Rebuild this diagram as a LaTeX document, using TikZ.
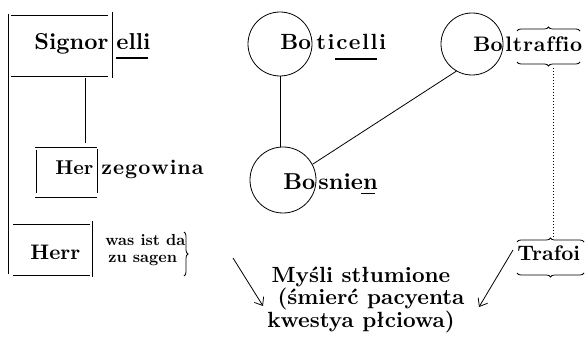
\documentclass[tikz,border=0pt]{standalone}
\usepackage{fontspec}
\setmainfont{lmroman10-regular.otf}[BoldFont=lmroman10-bold.otf]
\usetikzlibrary{arrows.meta,decorations.pathreplacing}
\makeatletter
\newcommand\lsp[2]{\def\lsp@k{#1}\@tfor\lsp@c:=#2\do{\lsp@c\kern\lsp@k}\kern-\lsp@k}
\makeatother
\begin{document}
\begin{tikzpicture}[x=1pt,y=-1pt, line width=0.8pt,
  txt/.style={inner sep=0pt, anchor=base west, font=\bfseries\fontsize{#1}{#1}\selectfont},
  txt/.default=21,
  big/.style={inner sep=0pt, anchor=base, font=\bfseries\fontsize{22}{22}\selectfont},
  ring/.style={circle, draw, minimum size=#1, inner sep=0pt},
  uline/.style={line width=1.4pt},
  brc/.style={decorate, decoration={brace, amplitude=4pt}},
  barb/.style={-{Straight Barb[length=7pt,width=11pt]}}]
\useasboundingbox (0,0) rectangle (585,344);
% Signorelli box
\draw (8,14) -- (8,274);
\draw (11,15) -- (108,15);
\draw (11,76) -- (108,76);
\draw (112,12) -- (112,78);
\node[txt=23] (signor) at (34,50) {Signor};
\node[txt=23] (elli) at (116,50) {elli};
\draw[uline] (116,58) -- (148,58);
% Herzegowina box
\draw (35,147) -- (97,147);
\draw (36,150) -- (36,193);
\draw (97,149) -- (97,193);
\draw (35,197) -- (97,197);
\node[txt=20] (her) at (55,175) {Her};
\node[txt=21] (zego) at (101,175) {\lsp{1pt}{zegowina}};
\coordinate (sigfoot) at (85,78);
\coordinate (herhead) at (85,143);
\draw (sigfoot) -- (herhead);
% Herr box
\draw (13,224) -- (90,224);
\draw (92,221) -- (92,277);
\draw (13,275) -- (90,275);
\node[txt=21] (herr) at (30,259) {Herr};
\node[txt=16] (wasist) at (105,245) {was ist da};
\node[txt=16] (zusagen) at (108,262) {zu sagen};
\draw[brc] (184,232) -- (184,276);
% Boticelli
\node[ring=64pt] (boti) at (280,44) {};
\node[txt=22] (bo1) at (280,50) {Bo};
\node[txt=22] (ticelli) at (316,50) {\lsp{1.5pt}{ticelli}};
\draw[uline] (335,59) -- (377,59);
% Bosnien
\node[ring=66pt] (bos) at (283,180) {};
\node[txt=23] (bo2) at (283,190) {Bo};
\node[txt=23] (snien) at (318,190) {snien};
\draw (361,193) -- (375,193);
% Boltraffio
\node[ring=62pt] (bolt) at (472,44) {};
\node[txt=21] (bo3) at (473,52) {Bo};
\node[txt=21] (traffio) at (505,52) {\lsp{0.8pt}{ltraffio}};
\draw[brc] (517,31) -- (580,31);
\draw[brc] (580,62) -- (517,62);
% Trafoi
\node[txt=21] (trafoi) at (517,260) {Trafoi};
\draw[brc] (517,242) -- (584,242);
\draw[brc] (584,273) -- (517,273);
% connectors
\draw (boti.south) -- (boti.south |- bos.north);
\draw (bos.28) -- (bolt.240);
\coordinate (boltbr) at (553,68);
\coordinate (trafbr) at (553,239);
\draw[dotted, line width=1pt] (boltbr) -- (trafbr);
% repressed thoughts
\node[big] (m1) at (361,282) {Myśli stłumione};
\node[big] (m2) at (371,304) {(śmierć pacyenta};
\node[big] (m3) at (361,327) {kwestya płciowa)};
\coordinate (la) at (233,258);
\coordinate (lb) at (263,306);
\coordinate (ra) at (513,250);
\coordinate (rb) at (479,307);
\draw[barb] (la) -- (lb);
\draw[barb] (ra) -- (rb);
\end{tikzpicture}
\end{document}
